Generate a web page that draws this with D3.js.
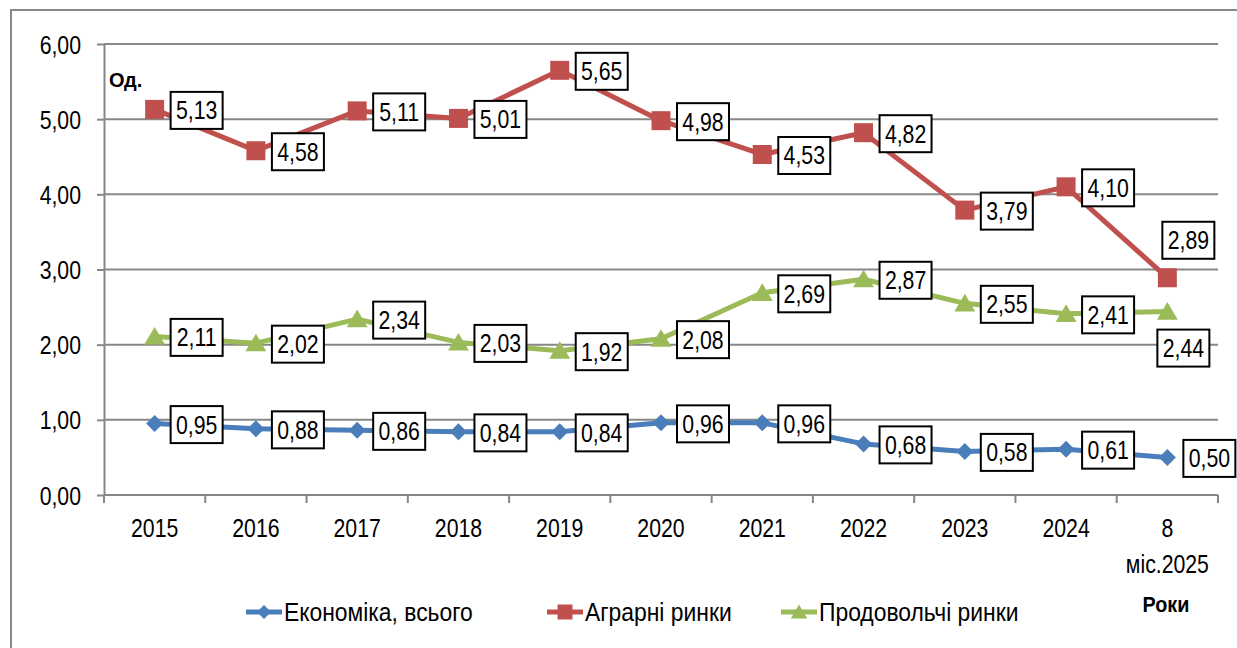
<!DOCTYPE html>
<html>
<head>
<meta charset="utf-8">
<script src="https://cdn.jsdelivr.net/npm/d3@7"></script>
<style>
  body { margin: 0; background: #fff; }
  svg { display: block; font-family: "Liberation Sans", Arial, sans-serif; }
</style>
</head>
<body>
<div id="chart"></div>
<script>
// Categories and series values
const years = ['2015', '2016', '2017', '2018', '2019', '2020', '2021', '2022', '2023', '2024', '8 міс.2025'];
const economy = [0.95, 0.88, 0.86, 0.84, 0.84, 0.96, 0.96, 0.68, 0.58, 0.61, 0.50];
const agrarian = [5.13, 4.58, 5.11, 5.01, 5.65, 4.98, 4.53, 4.82, 3.79, 4.10, 2.89];
const food = [2.11, 2.02, 2.34, 2.03, 1.92, 2.08, 2.69, 2.87, 2.55, 2.41, 2.44];
const yTicks = [0, 1, 2, 3, 4, 5, 6];
const seriesNames = ['Економіка, всього', 'Аграрні ринки', 'Продовольчі ринки'];

const W = 1237, H = 648;
const grey = '#878787';
const SX = 0.85; // horizontal squeeze to mimic the narrow font of the original
const fmt = v => d3.format('.2f')(v).replace('.', ',');

const series = [
  { name: seriesNames[0], values: economy, color: '#4a7ebb', marker: 'diamond' },
  { name: seriesNames[1], values: agrarian, color: '#c0504d', marker: 'square' },
  { name: seriesNames[2], values: food, color: '#9bbb59', marker: 'triangle' }
];

const svg = d3.select('#chart').append('svg')
  .attr('width', W)
  .attr('height', H);

// text helper: narrow-looking text anchored at (x, y)
function txt(parent, x, y, s, opt = {}) {
  return parent.append('text')
    .attr('transform', `translate(${x},${y}) scale(${opt.sx || SX},1)`)
    .attr('text-anchor', opt.anchor || 'start')
    .style('font-size', opt.size || '25px')
    .style('font-weight', opt.weight || '400')
    .text(s);
}

// outer frame (only top and left edges visible)
svg.append('path')
  .attr('d', `M11,${H} V10 H${W}`)
  .attr('fill', 'none')
  .attr('stroke', grey)
  .attr('stroke-width', 2);

const x = d3.scaleBand().domain(years).range([104, 1218]);
const y = d3.scaleLinear().domain([0, 6]).range([495, 44]);
const cx = d => x(d) + x.bandwidth() / 2;

// gridlines
svg.append('g')
  .selectAll('line')
  .data(yTicks.filter(t => t > 0))
  .join('line')
    .attr('x1', 104).attr('x2', 1218)
    .attr('y1', d => y(d)).attr('y2', d => y(d))
    .attr('stroke', grey)
    .attr('stroke-width', 2);

// y axis
const yAxis = svg.append('g')
  .attr('transform', 'translate(104,0)')
  .call(d3.axisLeft(y).tickValues(yTicks).tickFormat(fmt).tickSizeInner(7).tickSizeOuter(0));
yAxis.select('.domain').attr('stroke', grey).attr('stroke-width', 2);
yAxis.selectAll('.tick line').attr('stroke', grey).attr('stroke-width', 2);
yAxis.selectAll('.tick text')
  .attr('x', 0)
  .attr('dy', null)
  .attr('y', 9)
  .attr('fill', '#000')
  .attr('text-anchor', 'end')
  .attr('transform', `translate(-23,0) scale(${SX},1)`)
  .style('font-size', '25px')
  .style('font-family', '"Liberation Sans", Arial, sans-serif');

// x axis: ticks between categories
svg.append('line')
  .attr('x1', 104).attr('x2', 1218)
  .attr('y1', 495).attr('y2', 495)
  .attr('stroke', grey).attr('stroke-width', 2);
const bounds = years.map(d => x(d)).concat([x.range()[1]]);
svg.append('g')
  .selectAll('line')
  .data(bounds)
  .join('line')
    .attr('x1', d => d).attr('x2', d => d)
    .attr('y1', 495).attr('y2', 503)
    .attr('stroke', grey).attr('stroke-width', 2);

// x labels (the last category wraps onto two lines)
const xg = svg.append('g');
years.forEach(d => {
  d.split(' ').forEach((part, i) => {
    txt(xg, cx(d), 537 + i * 36, part, { anchor: 'middle' });
  });
});

// axis titles
txt(svg, 109, 87, 'Од.', { size: '20px', weight: '700', sx: 1 });
txt(svg, 1166, 612, 'Роки', { size: '22px', weight: '700', sx: 0.9, anchor: 'middle' });

// marker shapes
function markerPath(type, s) {
  if (type === 'diamond') return `M0,${-s} L${s},0 L0,${s} L${-s},0 Z`;
  if (type === 'square') return `M${-s},${-s} H${s} V${s} H${-s} Z`;
  return `M0,${-s} L${s * 1.1},${s * 0.85} L${-s * 1.1},${s * 0.85} Z`;
}
const markerSize = { diamond: 8.5, square: 9.5, triangle: 9.5 };

const line = d3.line()
  .x((v, i) => cx(years[i]))
  .y(v => y(v));

series.forEach(s => {
  svg.append('path')
    .datum(s.values)
    .attr('d', line)
    .attr('fill', 'none')
    .attr('stroke', s.color)
    .attr('stroke-width', 5)
    .attr('stroke-linejoin', 'round');

  svg.append('g')
    .selectAll('path')
    .data(s.values)
    .join('path')
      .attr('transform', (v, i) => `translate(${cx(years[i])},${y(v)})`)
      .attr('d', markerPath(s.marker, markerSize[s.marker]))
      .attr('fill', s.color);
});

// data labels (boxes)
const last = years.length - 1;
series.forEach(s => {
  const g = svg.append('g');
  s.values.forEach((v, i) => {
    const px = cx(years[i]), py = y(v);
    const bw = 52, bh = 37;
    let bx = px + 16, by = py - bh / 2 + 1;
    if (i === last && s.marker === 'square') { bx = px - 5; by = py - bh - 19; }
    if (i === last && s.marker === 'triangle') { bx = px - 10; by = py + 18; }
    g.append('rect')
      .attr('x', bx).attr('y', by)
      .attr('width', bw).attr('height', bh)
      .attr('fill', '#fff')
      .attr('stroke', '#000')
      .attr('stroke-width', 2);
    txt(g, bx + bw / 2, by + bh / 2 + 9, fmt(v), { anchor: 'middle' });
  });
});

// legend
const legendTextX = [283, 584, 818];
const legend = svg.append('g')
  .selectAll('g')
  .data(series)
  .join('g')
    .attr('transform', (d, i) => `translate(${legendTextX[i]},612)`);
legend.append('line')
  .attr('x1', -37).attr('x2', -1)
  .attr('stroke', d => d.color)
  .attr('stroke-width', 5);
legend.append('path')
  .attr('transform', 'translate(-19,0)')
  .attr('d', d => markerPath(d.marker, d.marker === 'diamond' ? 7 : 7.5))
  .attr('fill', d => d.color);
legend.each(function (d) {
  txt(d3.select(this), 1, 9, d.name, { size: '26px', sx: 0.88 });
});
</script>
</body>
</html>
